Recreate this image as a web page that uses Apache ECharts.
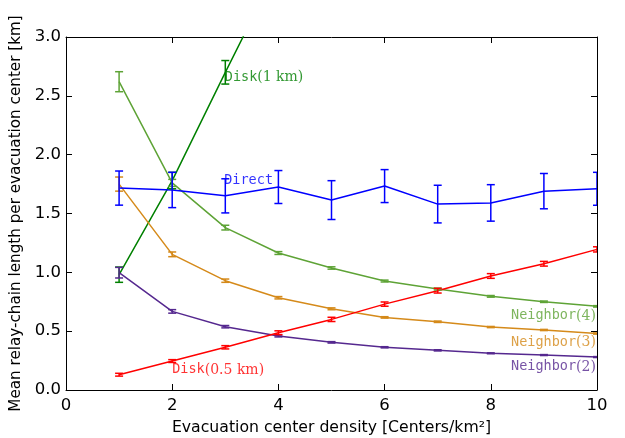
<!DOCTYPE html>
<html>
<head>
<meta charset="utf-8">
<script src="https://cdn.jsdelivr.net/npm/echarts@6/dist/echarts.min.js"></script>
<style>
  html, body { margin: 0; padding: 0; background: #fff; }
  #chart { width: 625px; height: 438px; }
</style>
</head>
<body>
<div id="chart"></div>
<script>
// Evacuation center density (x)
const density = [1, 2, 3, 4, 5, 6, 7, 8, 9, 10]

// means and error half-widths
const direct = [1.716, 1.70, 1.65, 1.725, 1.614, 1.733, 1.58, 1.59, 1.69, 1.71]
const directErr = [0.145, 0.15, 0.145, 0.14, 0.165, 0.14, 0.16, 0.155, 0.15, 0.14]

const disk1 = [0.98, 1.78, 2.70, 3.60]
const disk1Err = [0.065, 0.07, 0.10, 0.12]

const disk05 = [0.13, 0.246, 0.363, 0.487, 0.60, 0.73, 0.844, 0.969, 1.073, 1.195]
const disk05Err = [0.012, 0.012, 0.014, 0.016, 0.018, 0.018, 0.02, 0.02, 0.02, 0.022]

const neighbor4 = [2.62, 1.76, 1.38, 1.164, 1.037, 0.926, 0.858, 0.796, 0.75, 0.711]
const neighbor4Err = [0.085, 0.03, 0.02, 0.012, 0.01, 0.008, 0.008, 0.007, 0.006, 0.006]

const neighbor3 = [1.75, 1.153, 0.929, 0.784, 0.69, 0.617, 0.58, 0.535, 0.51, 0.48]
const neighbor3Err = [0.06, 0.02, 0.014, 0.01, 0.008, 0.006, 0.006, 0.005, 0.005, 0.005]

const neighbor2 = [0.997, 0.668, 0.538, 0.459, 0.405, 0.363, 0.337, 0.312, 0.297, 0.28]
const neighbor2Err = [0.045, 0.015, 0.01, 0.008, 0.006, 0.005, 0.005, 0.004, 0.004, 0.004]

const COLORS = {
  direct: '#0000ff',
  disk1: '#008000',
  disk05: '#ff0000',
  neighbor4: '#5ea336',
  neighbor3: '#d58a1a',
  neighbor2: '#55288f',
}

const MONO = 'DejaVu Sans Mono'
const SERIF = 'DejaVu Serif'

function lineSeries(name, ys, color) {
  return {
    name, type: 'line',
    data: ys.map((v, i) => [density[i], v]),
    showSymbol: false,
    clip: true,
    lineStyle: { color, width: 1.5 },
    z: 3,
  }
}

function errSeries(ys, errs, color) {
  return {
    type: 'custom',
    clip: true,
    data: ys.map((v, i) => [density[i], v, errs[i]]),
    renderItem(params, api) {
      const x = api.value(0), y = api.value(1), e = api.value(2)
      const lo = api.coord([x, y - e])
      const hi = api.coord([x, y + e])
      const w = 4
      const style = { stroke: color, lineWidth: 1.5 }
      return {
        type: 'group',
        children: [
          { type: 'line', shape: { x1: lo[0], y1: lo[1], x2: hi[0], y2: hi[1] }, style },
          { type: 'line', shape: { x1: lo[0] - w, y1: lo[1], x2: lo[0] + w, y2: lo[1] }, style },
          { type: 'line', shape: { x1: hi[0] - w, y1: hi[1], x2: hi[0] + w, y2: hi[1] }, style },
        ],
      }
    },
    z: 4,
  }
}

// text annotations placed in data coordinates
function label(pos, word, tail, color, side) {
  return {
    type: 'scatter',
    data: [pos],
    symbolSize: 0,
    silent: true,
    label: {
      show: true,
      position: side,
      distance: 0,
      formatter: '{a|' + word + '}{b|' + tail + '}',
      rich: {
        a: { fontFamily: MONO, fontSize: 13.5, color },
        b: { fontFamily: SERIF, fontSize: 14, color },
      },
    },
    z: 5,
  }
}

const chart = echarts.init(document.getElementById('chart'))

const axisLine = { show: true, onZero: false, lineStyle: { color: '#000', width: 1 } }
const tickIn = { show: true, inside: true, length: 6, lineStyle: { color: '#000' } }
const tickFont = { color: '#000', fontSize: 16.5, fontFamily: 'DejaVu Sans' }

chart.setOption({
  animation: false,
  grid: { left: 66, right: 28, top: 37, bottom: 48, containLabel: false, outerBoundsMode: 'none' },
  xAxis: [
    {
      type: 'value', min: 0, max: 10, interval: 2,
      axisLine, axisTick: tickIn, splitLine: { show: false },
      axisLabel: { ...tickFont, margin: 7 },
      name: 'Evacuation center density [Centers/km²]',
      nameLocation: 'middle', nameGap: 30,
      nameTextStyle: { color: '#000', fontSize: 15.7, fontFamily: 'DejaVu Sans' },
    },
    {
      type: 'value', min: 0, max: 10, interval: 2, position: 'top',
      axisLine, axisTick: tickIn, splitLine: { show: false },
      axisLabel: { show: false },
    },
  ],
  yAxis: [
    {
      type: 'value', min: 0, max: 3, interval: 0.5,
      axisLine, axisTick: tickIn, splitLine: { show: false },
      axisLabel: { ...tickFont, margin: 5, formatter: v => v.toFixed(1) },
      name: 'Mean relay-chain length per evacuation center [km]',
      nameLocation: 'middle', nameGap: 37,
      nameTextStyle: { color: '#000', fontSize: 15.2, fontFamily: 'DejaVu Sans' },
    },
    {
      type: 'value', min: 0, max: 3, interval: 0.5, position: 'right',
      axisLine, axisTick: tickIn, splitLine: { show: false },
      axisLabel: { show: false },
    },
  ],
  series: [
    lineSeries('Disk(1 km)', disk1, COLORS.disk1),
    errSeries(disk1, disk1Err, COLORS.disk1),
    lineSeries('Neighbor(4)', neighbor4, COLORS.neighbor4),
    errSeries(neighbor4, neighbor4Err, COLORS.neighbor4),
    lineSeries('Neighbor(3)', neighbor3, COLORS.neighbor3),
    errSeries(neighbor3, neighbor3Err, COLORS.neighbor3),
    lineSeries('Neighbor(2)', neighbor2, COLORS.neighbor2),
    errSeries(neighbor2, neighbor2Err, COLORS.neighbor2),
    lineSeries('Disk(0.5 km)', disk05, COLORS.disk05),
    errSeries(disk05, disk05Err, COLORS.disk05),
    lineSeries('Direct', direct, COLORS.direct),
    errSeries(direct, directErr, COLORS.direct),
    label([2.99, 2.66], 'Disk', '(1 km)', COLORS.disk1, 'right'),
    label([2.98, 1.777], 'Direct', '', COLORS.direct, 'right'),
    label([9.98, 0.63], 'Neighbor', '(4)', COLORS.neighbor4, 'left'),
    label([9.98, 0.401], 'Neighbor', '(3)', COLORS.neighbor3, 'left'),
    label([9.98, 0.196], 'Neighbor', '(2)', COLORS.neighbor2, 'left'),
    label([2.0, 0.17], 'Disk', '(0.5 km)', COLORS.disk05, 'right'),
  ],
})
</script>
</body>
</html>
